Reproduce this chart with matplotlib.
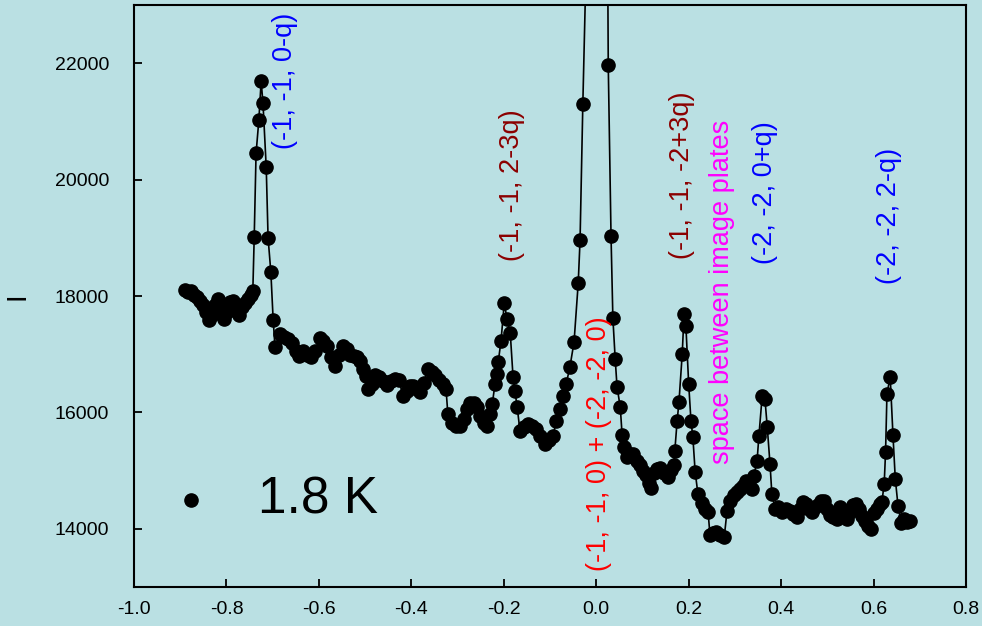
import numpy as np
import matplotlib
matplotlib.use("Agg")
import matplotlib.pyplot as plt

# scan data, 1.8 K
pos = np.array([
    -0.890, -0.883, -0.877, -0.870, -0.864, -0.857, -0.851, -0.844, -0.838, -0.831,
    -0.825, -0.818, -0.812, -0.805, -0.799, -0.792, -0.786, -0.779, -0.773, -0.766,
    -0.760, -0.753, -0.747, -0.743, -0.740, -0.736, -0.730, -0.725, -0.721, -0.714,
    -0.710, -0.704, -0.699, -0.695, -0.684, -0.675, -0.667, -0.658, -0.650, -0.643,
    -0.634, -0.626, -0.617, -0.608, -0.598, -0.591, -0.582, -0.574, -0.565, -0.556,
    -0.548, -0.539, -0.533, -0.524, -0.518, -0.511, -0.505, -0.498, -0.494, -0.485,
    -0.479, -0.470, -0.461, -0.453, -0.444, -0.435, -0.427, -0.418, -0.409, -0.403,
    -0.396, -0.388, -0.381, -0.373, -0.364, -0.355, -0.349, -0.340, -0.331, -0.325,
    -0.321, -0.312, -0.303, -0.295, -0.286, -0.280, -0.273, -0.264, -0.258, -0.251,
    -0.243, -0.236, -0.230, -0.225, -0.219, -0.215, -0.212, -0.206, -0.199, -0.193,
    -0.186, -0.180, -0.176, -0.171, -0.165, -0.156, -0.148, -0.139, -0.130, -0.122,
    -0.111, -0.102, -0.093, -0.087, -0.078, -0.072, -0.065, -0.057, -0.048, -0.039,
    -0.035, -0.029, -0.016, -0.003, 0.013, 0.026, 0.032, 0.036, 0.041, 0.045,
    0.052, 0.056, 0.060, 0.067, 0.073, 0.080, 0.088, 0.095, 0.101, 0.108,
    0.114, 0.118, 0.125, 0.132, 0.138, 0.147, 0.155, 0.162, 0.168, 0.170,
    0.175, 0.179, 0.186, 0.190, 0.194, 0.200, 0.205, 0.209, 0.214, 0.220,
    0.229, 0.235, 0.242, 0.246, 0.253, 0.259, 0.268, 0.277, 0.283, 0.290,
    0.298, 0.305, 0.311, 0.318, 0.324, 0.331, 0.337, 0.341, 0.348, 0.352,
    0.359, 0.365, 0.370, 0.376, 0.380, 0.387, 0.393, 0.402, 0.411, 0.419,
    0.426, 0.434, 0.441, 0.447, 0.454, 0.460, 0.467, 0.473, 0.480, 0.486,
    0.493, 0.499, 0.506, 0.512, 0.521, 0.528, 0.534, 0.543, 0.549, 0.556,
    0.562, 0.569, 0.575, 0.582, 0.588, 0.595, 0.601, 0.608, 0.614, 0.618,
    0.623, 0.626, 0.629, 0.636, 0.642, 0.647, 0.653, 0.660, 0.666, 0.673,
    0.679,
])
inten = np.array([
    18100, 18070, 18090, 18020, 17980, 17910, 17850, 17720, 17590, 17670,
    17850, 17950, 17780, 17600, 17720, 17900, 17910, 17810, 17670, 17810,
    17880, 17950, 18020, 18090, 19010, 20450, 21020, 21690, 21310, 20210,
    19000, 18410, 17590, 17120, 17350, 17300, 17260, 17190, 17060, 16970,
    17060, 16990, 16950, 17060, 17280, 17230, 17140, 16950, 16800, 16990,
    17140, 17090, 16990, 16970, 16950, 16880, 16750, 16630, 16400, 16490,
    16640, 16610, 16540, 16470, 16540, 16570, 16560, 16280, 16370, 16450,
    16450, 16400, 16350, 16510, 16750, 16690, 16640, 16560, 16490, 16400,
    15970, 15820, 15770, 15770, 15890, 16060, 16160, 16160, 16090, 15940,
    15820, 15770, 15970, 16140, 16490, 16660, 16870, 17230, 17880, 17600,
    17360, 16610, 16370, 16090, 15680, 15750, 15800, 15770, 15720, 15600,
    15460, 15530, 15600, 15850, 16060, 16280, 16490, 16780, 17210, 18220,
    18960, 21300, 25700, 38000, 41000, 21970, 19030, 17620, 16920, 16440,
    16090, 15610, 15410, 15240, 15290, 15290, 15170, 15100, 14990, 14930,
    14790, 14700, 14960, 15030, 15050, 14960, 14890, 15010, 15100, 15340,
    15850, 16180, 17000, 17690, 17480, 16490, 15850, 15580, 14980, 14600,
    14450, 14340, 14290, 13900, 13930, 13950, 13900, 13860, 14310, 14480,
    14580, 14630, 14690, 14740, 14820, 14750, 14690, 14910, 15170, 15600,
    16280, 16230, 15750, 15110, 14600, 14340, 14380, 14290, 14340, 14310,
    14260, 14200, 14340, 14460, 14430, 14340, 14290, 14380, 14410, 14480,
    14480, 14340, 14240, 14200, 14170, 14380, 14310, 14170, 14290, 14410,
    14430, 14340, 14220, 14140, 14050, 14000, 14270, 14340, 14430, 14460,
    14770, 15320, 16320, 16610, 15610, 14860, 14390, 14100, 14170, 14120,
    14140,
])

# peak labels: text, x, y (bottom of the rotated text), colour
labels = ["(-1, -1, 0-q)", "(-1, -1, 2-3q)", "(-1, -1, 0) + (-2, -2, 0)",
          "(-1, -1, -2+3q)", "space between image plates", "(-2, -2, 0+q)",
          "(-2, -2, 2-q)"]
label_x = [-0.673, -0.182, 0.005, 0.186, 0.272, 0.365, 0.633]
label_y = [20520, 18600, 13280, 18630, 15110, 18550, 18200]
label_c = ["#0000ff", "#8b0000", "#ff0000", "#8b0000", "#ff00ff", "#0000ff", "#0000ff"]

bg = "#bae0e3"
plt.rcParams["font.family"] = ["Liberation Sans", "DejaVu Sans"]

fig = plt.figure(figsize=(9.82, 6.26), dpi=100, facecolor=bg)
ax = fig.add_axes([0.1365, 0.0623, 0.8472, 0.9297])
ax.set_facecolor(bg)

ax.plot(pos, inten, "-o", color="black", lw=1.2, ms=9.5, mec="black", mfc="black")

for t, x, y, c in zip(labels, label_x, label_y, label_c):
    ax.text(x, y, t, rotation=90, ha="center", va="bottom", color=c, fontsize=19.5)

# legend: dot + temperature
ax.plot([0.0685], [0.1495], "o", color="black", ms=9.5, transform=ax.transAxes)
ax.text(0.149, 0.1495, "1.8 K", transform=ax.transAxes, fontsize=37,
        va="center", ha="left")

ax.set_xlim(-1.0, 0.8)
ax.set_ylim(13000, 23000)
ax.set_xticks(np.arange(-1.0, 0.81, 0.2))
ax.set_xticklabels(["-1.0", "-0.8", "-0.6", "-0.4", "-0.2", "0.0", "0.2", "0.4", "0.6", "0.8"])
ax.set_yticks([14000, 16000, 18000, 20000, 22000])
ax.tick_params(axis="both", direction="in", length=6, width=1.3, labelsize=14)
ax.tick_params(axis="y", pad=18)
ax.tick_params(axis="x", pad=10)
for s in ax.spines.values():
    s.set_linewidth(1.5)
ax.set_ylabel("I", fontsize=20, labelpad=17)

fig.savefig("out.png", dpi=100, facecolor=bg)
